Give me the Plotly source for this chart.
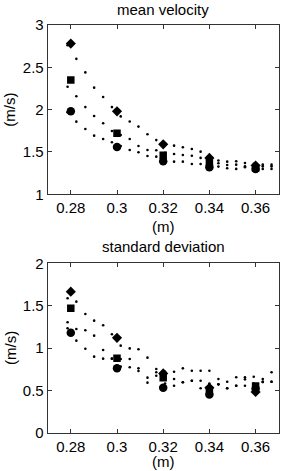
import plotly.graph_objects as go

# ---- data ----
x_pos = [0.28, 0.30, 0.32, 0.34, 0.36]
x_tick_vals = [0.28, 0.30, 0.32, 0.34, 0.36]
x_tick_text = ["0.28", "0.3", "0.32", "0.34", "0.36"]

mean_diamond = [2.78, 1.98, 1.59, 1.43, 1.34]
mean_square = [2.35, 1.72, 1.46, 1.37, 1.31]
mean_circle = [1.98, 1.56, 1.39, 1.32, 1.30]

std_diamond = [1.665, 1.12, 0.70, 0.53, 0.48]
std_square = [1.47, 0.88, 0.65, 0.50, 0.55]
std_circle = [1.18, 0.76, 0.53, 0.45, 0.52]

x_dots = [0.2786, 0.2824, 0.2863, 0.2901, 0.2940, 0.2978, 0.3016, 0.3055,
          0.3093, 0.3132, 0.3170, 0.3208, 0.3247, 0.3285, 0.3324, 0.3362,
          0.3400, 0.3439, 0.3477, 0.3516, 0.3554, 0.3592, 0.3631, 0.3669]

mean_dots_a = [2.76, 2.60, 2.44, 2.26, 2.15, 2.03, 1.92, 1.86, 1.80, 1.71, 1.64, 1.60,
               1.575, 1.555, 1.535, 1.504, 1.46, 1.40, 1.386, 1.39, 1.37, 1.36, 1.35, 1.35]
mean_dots_b = [2.27, 2.158, 2.03, 1.925, 1.839, 1.748, 1.70, 1.654, 1.571, 1.524, 1.52, 1.49,
               1.476, 1.465, 1.456, 1.43, 1.40, 1.367, 1.347, 1.35, 1.33, 1.32, 1.33, 1.33]
mean_dots_c = [1.97, 1.858, 1.772, 1.693, 1.654, 1.614, 1.57, 1.524, 1.496, 1.453, 1.445, 1.41,
               1.386, 1.386, 1.358, 1.358, 1.33, 1.327, 1.308, 1.30, 1.32, 1.30, 1.30, 1.30]

std_dots_a = [1.587, 1.547, 1.402, 1.323, 1.268, 1.162, 1.028, 0.995, 0.985, 0.886, 0.752, 0.72,
              0.720, 0.760, 0.732, 0.732, 0.732, 0.634, 0.602, 0.654, 0.654, 0.661, 0.634, 0.713]
std_dots_b = [1.304, 1.225, 1.209, 1.146, 0.977, 0.874, 0.87, 0.870, 0.760, 0.650, 0.713, 0.66,
              0.634, 0.595, 0.614, 0.614, 0.58, 0.571, 0.524, 0.555, 0.63, 0.58, 0.60, 0.602]
std_dots_c = [1.233, 1.087, 0.992, 0.898, 0.874, 0.874, 0.78, 0.772, 0.729, 0.591, 0.673, 0.58,
              0.555, 0.595, 0.614, 0.524, 0.50, 0.571, 0.524, 0.555, 0.555, 0.52, 0.60, 0.602]

mean_y_ticks = [1, 1.5, 2, 2.5, 3]
mean_y_text = ["1", "1.5", "2", "2.5", "3"]
std_y_ticks = [0, 0.5, 1, 1.5, 2]
std_y_text = ["0", "0.5", "1", "1.5", "2"]

# ---- figure ----
W, H = 282, 471
FONT = "Liberation Sans, Arial, sans-serif"
fig = go.Figure()

def add_panel(xa, ya, dots, markers):
    for d in dots:
        fig.add_trace(go.Scatter(x=x_dots, y=d, mode="markers", xaxis=xa, yaxis=ya,
                                 marker=dict(size=2.6, color="black", line=dict(width=0)),
                                 showlegend=False, hoverinfo="skip"))
    for vals, sym, sz in markers:
        fig.add_trace(go.Scatter(x=x_pos, y=vals, mode="markers", xaxis=xa, yaxis=ya,
                                 marker=dict(symbol=sym, size=sz, color="black", line=dict(width=0)),
                                 showlegend=False))

add_panel("x", "y", [mean_dots_a, mean_dots_b, mean_dots_c],
          [(mean_diamond, "diamond", 7.8), (mean_square, "square", 7.5), (mean_circle, "circle", 8.5)])
add_panel("x2", "y2", [std_dots_a, std_dots_b, std_dots_c],
          [(std_diamond, "diamond", 7.8), (std_square, "square", 7.5), (std_circle, "circle", 8.5)])

x0, x1 = 47.7 / W, 278.7 / W
top_dom = [1 - 194.3 / H, 1 - 25 / H]
bot_dom = [1 - 432.7 / H, 1 - 263.3 / H]

axis_common = dict(showgrid=False, zeroline=False, showline=True, linecolor="#333333",
                   linewidth=1, mirror="ticks", ticks="inside", ticklen=4, tickcolor="#333333",
                   automargin=False,
                   tickfont=dict(family=FONT, size=15, color="black"))

fig.update_layout(
    width=W, height=H, margin=dict(l=0, r=0, t=0, b=0, autoexpand=False),
    paper_bgcolor="white", plot_bgcolor="white",
    xaxis=dict(domain=[x0, x1], range=[0.27, 0.37], anchor="y",
               tickvals=x_tick_vals, ticktext=x_tick_text, **axis_common),
    yaxis=dict(domain=top_dom, range=[1, 3], anchor="x",
               tickvals=mean_y_ticks, ticktext=mean_y_text, **axis_common),
    xaxis2=dict(domain=[x0, x1], range=[0.27, 0.37], anchor="y2",
                tickvals=x_tick_vals, ticktext=x_tick_text, **axis_common),
    yaxis2=dict(domain=bot_dom, range=[0, 2], anchor="x2",
                tickvals=std_y_ticks, ticktext=std_y_text, **axis_common),
)

cx = (47.7 + 278.7) / 2 / W
txt = dict(family=FONT, size=15, color="black")
ann = [
    dict(text="mean velocity", x=cx, y=1 - 9.5 / H),
    dict(text="(m)", x=cx, y=1 - 226 / H),
    dict(text="standard deviation", x=cx, y=1 - 246.7 / H),
    dict(text="(m)", x=cx, y=1 - 461.5 / H),
    dict(text="(m/s)", x=10 / W, y=1 - 109.7 / H, textangle=-90),
    dict(text="(m/s)", x=10 / W, y=1 - 348 / H, textangle=-90),
]
for a in ann:
    fig.add_annotation(xref="paper", yref="paper", showarrow=False,
                       xanchor="center", yanchor="middle", font=txt, **a)

fig.write_html("out.html", config={"displayModeBar": False},
               post_script="document.body.style.margin='0';document.body.style.overflow='hidden';")
